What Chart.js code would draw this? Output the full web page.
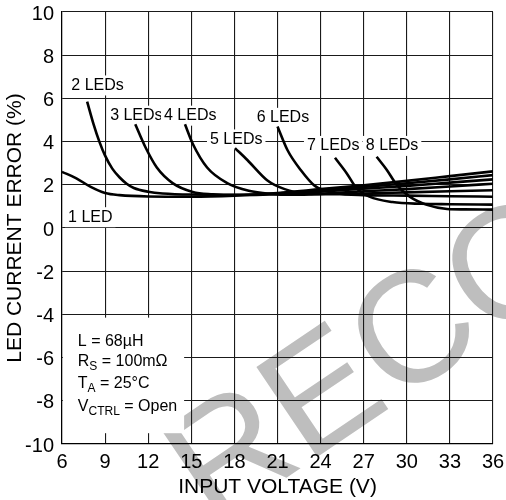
<!DOCTYPE html>
<html lang="en">
<head>
    <meta charset="UTF-8">
    <title>LED current error vs input voltage</title>
    <script src="https://cdn.jsdelivr.net/npm/chart.js"></script>
    <style>
        body { margin: 0; background: #fff; }
        canvas { display: block; }
    </style>
</head>
<body>
    <canvas id="myChart" width="506" height="500"></canvas>
    <script>
    // input voltage (V) / current error (%) for each LED string length
    const led1V = [6, 7, 8, 9, 10, 12, 15, 18, 21, 24, 27, 30, 33, 36];
    const led1E = [2.6, 2.3, 1.9, 1.62, 1.52, 1.46, 1.45, 1.5, 1.62, 1.8, 1.98, 2.18, 2.4, 2.62];
    const led2V = [7.75, 8.2, 8.6, 9, 9.5, 10, 10.5, 11, 12, 13, 15, 18, 21, 24, 27, 30, 33, 36];
    const led2E = [5.85, 4.8, 4.0, 3.35, 2.75, 2.35, 2.05, 1.85, 1.68, 1.6, 1.55, 1.54, 1.6, 1.74, 1.9, 2.07, 2.25, 2.45];
    const led3V = [11.1, 11.8, 12.6, 13.7, 15.1, 16.5, 18, 21, 24, 27, 30, 33, 36];
    const led3E = [4.8, 3.75, 2.8, 2.08, 1.67, 1.56, 1.52, 1.56, 1.68, 1.82, 1.95, 2.1, 2.25];
    const led4V = [14.56, 15.1, 16.1, 17.5, 19, 20.5, 22, 24, 27, 30, 33, 36];
    const led4E = [4.8, 3.9, 2.8, 2.08, 1.72, 1.58, 1.54, 1.58, 1.7, 1.8, 1.92, 2.05];
    const led5V = [18.04, 18.9, 20.3, 21.5, 23, 25, 27, 30, 33, 36];
    const led5E = [3.7, 3.15, 2.2, 1.8, 1.6, 1.56, 1.6, 1.65, 1.7, 1.75];
    const led6V = [21, 21.7, 22.6, 23.6, 25, 27, 30, 33, 36];
    const led6E = [4.7, 3.6, 2.7, 1.95, 1.62, 1.52, 1.5, 1.47, 1.45];
    const led7V = [25, 25.8, 26.5, 27.4, 29, 31, 33, 36];
    const led7E = [3.25, 2.55, 1.85, 1.45, 1.2, 1.12, 1.1, 1.08];
    const led8V = [27.9, 28.6, 29.3, 30.2, 31.4, 32.8, 34, 36];
    const led8E = [3.3, 2.7, 2.0, 1.45, 1.07, 0.88, 0.86, 0.85];

    const seriesV = [led1V, led2V, led3V, led4V, led5V, led6V, led7V, led8V];
    const seriesE = [led1E, led2E, led3E, led4E, led5E, led6E, led7E, led8E];
    const seriesNames = ['1 LED', '2 LEDs', '3 LEDs', '4 LEDs', '5 LEDs', '6 LEDs', '7 LEDs', '8 LEDs'];

    const xTicks = [6, 9, 12, 15, 18, 21, 24, 27, 30, 33, 36];
    const yTicks = [-10, -8, -6, -4, -2, 0, 2, 4, 6, 8, 10];

    // curve labels, placed in data units (left edge, vertical centre)
    const curveLabels = [
        { text: '2 LEDs', v: 6.65, e: 6.6 },
        { text: '3 LEDs', v: 9.35, e: 5.2 },
        { text: '4 LEDs', v: 13.1, e: 5.2 },
        { text: '5 LEDs', v: 16.3, e: 4.1 },
        { text: '6 LEDs', v: 19.55, e: 5.1 },
        { text: '7 LEDs', v: 23.05, e: 3.8 },
        { text: '8 LEDs', v: 27.15, e: 3.8 },
        { text: '1 LED', v: 6.42, e: 0.5 }
    ];

    // test conditions: [main, subscript, rest]
    const conditions = [
        ['L = 68\u00b5H', '', ''],
        ['R', 'S', ' = 100m\u03a9'],
        ['T', 'A', ' = 25\u00b0C'],
        ['V', 'CTRL', ' = Open']
    ];

    const FONT = "'Liberation Sans', Arial, sans-serif";

    const datasets = seriesNames.map((name, i) => ({
        label: name,
        data: seriesV[i].map((v, k) => ({ x: v, y: seriesE[i][k] })),
        borderColor: '#000',
        borderWidth: 2.6,
        pointRadius: 0,
        fill: false,
        cubicInterpolationMode: 'monotone'
    }));

    // faint diagonal stamp behind the grid
    const watermark = {
        id: 'watermark',
        beforeDraw(chart) {
            const ctx = chart.ctx;
            ctx.save();
            ctx.translate(212, 528);
            ctx.rotate(-34 * Math.PI / 180);
            ctx.font = '158px ' + FONT;
            ctx.fillStyle = '#bebebe';
            ctx.textBaseline = 'alphabetic';
            ctx.fillText('RECOMMENDED', 0, 0);
            ctx.restore();
        }
    };

    const notes = {
        id: 'notes',
        beforeDatasetsDraw(chart) {
            const { ctx, scales: { x, y } } = chart;
            ctx.save();
            ctx.font = '16px ' + FONT;
            ctx.textBaseline = 'middle';
            ctx.textAlign = 'left';
            for (const l of curveLabels) {
                const px = x.getPixelForValue(l.v);
                const py = y.getPixelForValue(l.e);
                const w = ctx.measureText(l.text).width;
                ctx.fillStyle = '#fff';
                ctx.fillRect(px - 3, py - 10, w + 6, 20);
                ctx.fillStyle = '#000';
                ctx.fillText(l.text, px, py);
            }

            // conditions box
            const bx0 = x.getPixelForValue(6) + 1;
            const bx1 = x.getPixelForValue(14.5);
            const by0 = y.getPixelForValue(-4.15);
            const by1 = y.getPixelForValue(-9.5);
            ctx.fillStyle = '#fff';
            ctx.fillRect(bx0, by0, bx1 - bx0, by1 - by0);
            ctx.fillStyle = '#000';
            const lineE = [-5.28, -6.2, -7.2, -8.25];
            conditions.forEach((c, i) => {
                let px = x.getPixelForValue(7.1);
                const py = y.getPixelForValue(lineE[i]);
                ctx.font = '16px ' + FONT;
                ctx.fillText(c[0], px, py);
                px += ctx.measureText(c[0]).width;
                if (c[1]) {
                    ctx.font = '12px ' + FONT;
                    ctx.fillText(c[1], px, py + 5);
                    px += ctx.measureText(c[1]).width;
                }
                ctx.font = '16px ' + FONT;
                ctx.fillText(c[2], px, py);
            });
            ctx.restore();
        }
    };

    const ctx = document.getElementById('myChart').getContext('2d');
    const myChart = new Chart(ctx, {
        type: 'line',
        data: { datasets },
        options: {
            responsive: false,
            animation: false,
            events: [],
            layout: { padding: { top: 12, right: 13, left: 0, bottom: 0 } },
            plugins: { legend: { display: false }, tooltip: { enabled: false } },
            scales: {
                x: {
                    type: 'linear',
                    min: 6,
                    max: 36,
                    afterFit: s => { s.height = 56; s.paddingLeft = 0; s.paddingRight = 0; },
                    afterBuildTicks: s => { s.ticks = xTicks.map(v => ({ value: v })); },
                    grid: { color: '#1a1a1a', lineWidth: 1.1, drawTicks: false },
                    border: { color: '#000', width: 1.2 },
                    ticks: { color: '#000', padding: 6, maxRotation: 0, font: { family: FONT, size: 20 } },
                    title: {
                        display: true,
                        text: 'INPUT VOLTAGE (V)',
                        color: '#000',
                        padding: { top: 0, bottom: 0 },
                        font: { family: FONT, size: 21 }
                    }
                },
                y: {
                    min: -10,
                    max: 10,
                    afterFit: s => { s.width = 62; s.paddingTop = 0; s.paddingBottom = 0; },
                    afterBuildTicks: s => { s.ticks = yTicks.map(v => ({ value: v })); },
                    grid: { color: '#1a1a1a', lineWidth: 1.1, drawTicks: false },
                    border: { color: '#000', width: 1.2 },
                    ticks: { color: '#000', padding: 8, labelOffset: 2, font: { family: FONT, size: 20 } },
                    title: {
                        display: true,
                        text: 'LED CURRENT ERROR (%)',
                        color: '#000',
                        padding: { top: 3, bottom: 0 },
                        font: { family: FONT, size: 21 }
                    }
                }
            }
        },
        plugins: [watermark, notes]
    });
    </script>
</body>
</html>
